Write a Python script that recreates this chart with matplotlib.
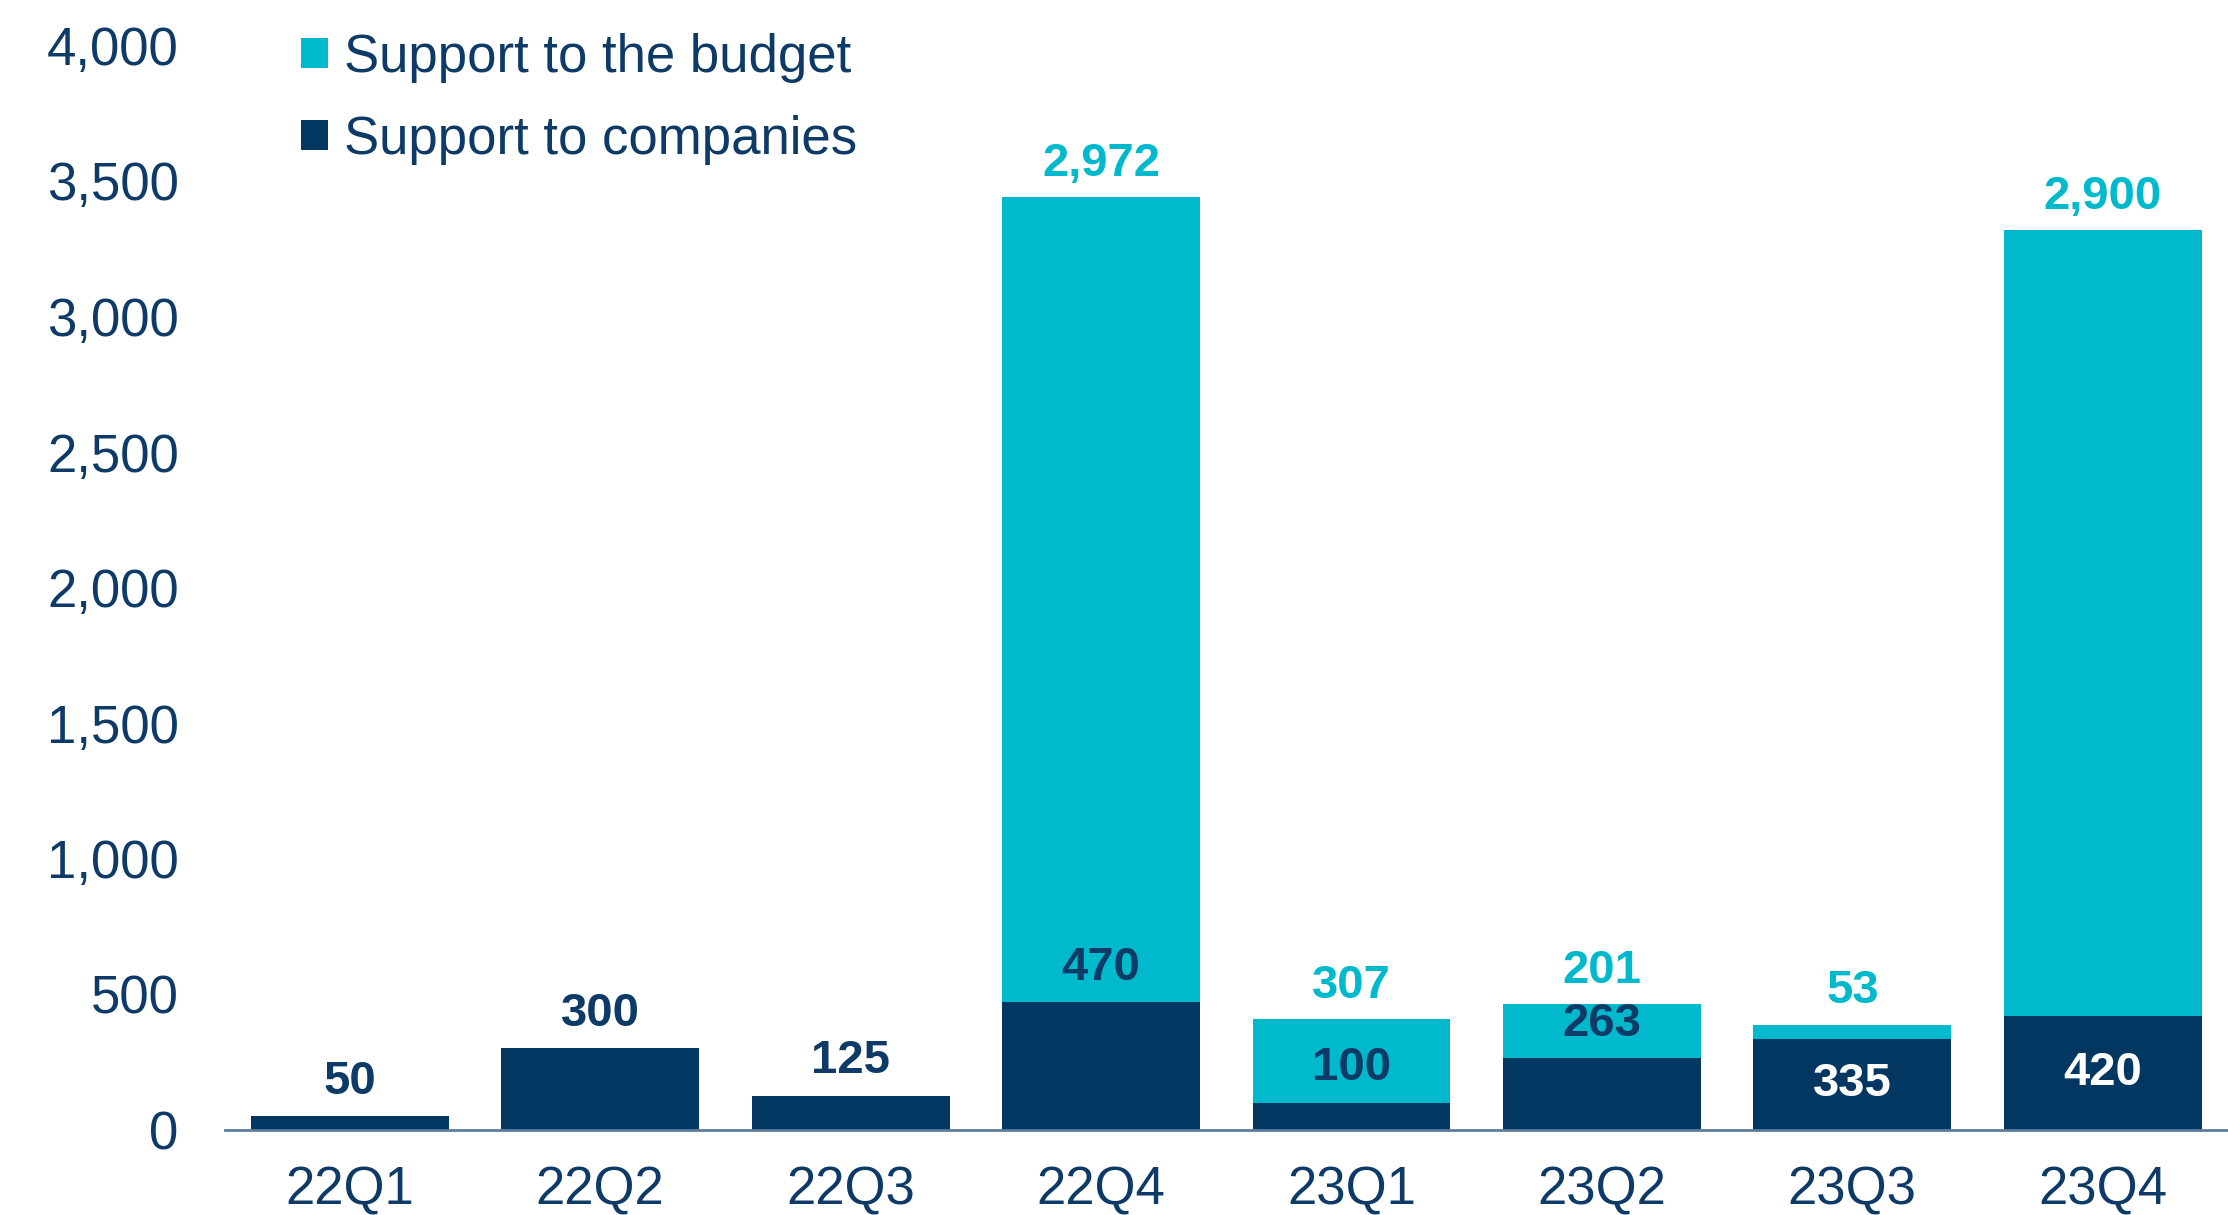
import numpy as np
import matplotlib
matplotlib.use("Agg")
import matplotlib.pyplot as plt
from matplotlib.patches import Patch

# data
quarters = ['22Q1', '22Q2', '22Q3', '22Q4', '23Q1', '23Q2', '23Q3', '23Q4']
companies = [50, 300, 125, 470, 100, 263, 335, 420]
budget = [0, 0, 0, 2972, 307, 201, 53, 2900]
# where the companies label goes: 'above' the dark bar or 'inside' it
company_label_pos = ['above', 'above', 'above', 'above', 'above', 'above', 'inside', 'inside']

NAVY = '#023761'
CYAN = '#00B9CC'
TEXT = '#0D3A66'

plt.rcParams['font.family'] = ['Liberation Sans', 'DejaVu Sans']

fig = plt.figure(figsize=(22.28, 12.15), dpi=100)
ax = fig.add_axes([0.1008, 0.0702, 0.8992, 0.8924])

x = np.arange(len(quarters))
w = 0.79
comp = np.array(companies)
bud = np.array(budget)

ax.bar(x, comp, width=w, color=NAVY, zorder=2)
ax.bar(x, bud, width=w, bottom=comp, color=CYAN, zorder=2)

ax.set_xlim(-0.5, 7.5)
ax.set_ylim(0, 4000)
ax.set_yticks(np.arange(0, 4001, 500))
ax.set_yticklabels([f'{v:,}' for v in range(0, 4001, 500)])
ax.set_xticks(x)
ax.set_xticklabels(quarters)

ax.tick_params(axis='both', length=0, labelsize=38, labelcolor=TEXT)
ax.tick_params(axis='y', pad=33)
ax.tick_params(axis='x', pad=26)
for s in ['top', 'right', 'left']:
    ax.spines[s].set_visible(False)
ax.spines['bottom'].set_color('#5F7D9B')
ax.spines['bottom'].set_linewidth(2)
ax.spines['bottom'].set_zorder(3)

lab_fs = 34
for i in range(len(quarters)):
    # companies labels
    if company_label_pos[i] == 'inside':
        ax.text(x[i], comp[i] / 2, f'{comp[i]:,}', ha='center', va='center',
                color='white', fontsize=lab_fs, fontweight='bold', zorder=4)
    else:
        ax.annotate(f'{comp[i]:,}', (x[i], comp[i]), xytext=(0, 9),
                    textcoords='offset points', ha='center', va='bottom',
                    color=TEXT, fontsize=lab_fs, fontweight='bold', zorder=4)
    # budget labels
    if bud[i] > 0:
        ax.annotate(f'{bud[i]:,}', (x[i], comp[i] + bud[i]), xytext=(0, 8),
                    textcoords='offset points', ha='center', va='bottom',
                    color=CYAN, fontsize=lab_fs, fontweight='bold', zorder=4)

handles = [Patch(facecolor=CYAN, label='Support to the budget'),
           Patch(facecolor=NAVY, label='Support to companies')]
leg = fig.legend(handles=handles, loc='upper left', bbox_to_anchor=(0.114, 1.012),
                 frameon=False, fontsize=38, handlelength=0.5, handleheight=0.5,
                 handletextpad=0.3, labelspacing=0.6, labelcolor=TEXT)

fig.savefig('out.png', dpi=100)
